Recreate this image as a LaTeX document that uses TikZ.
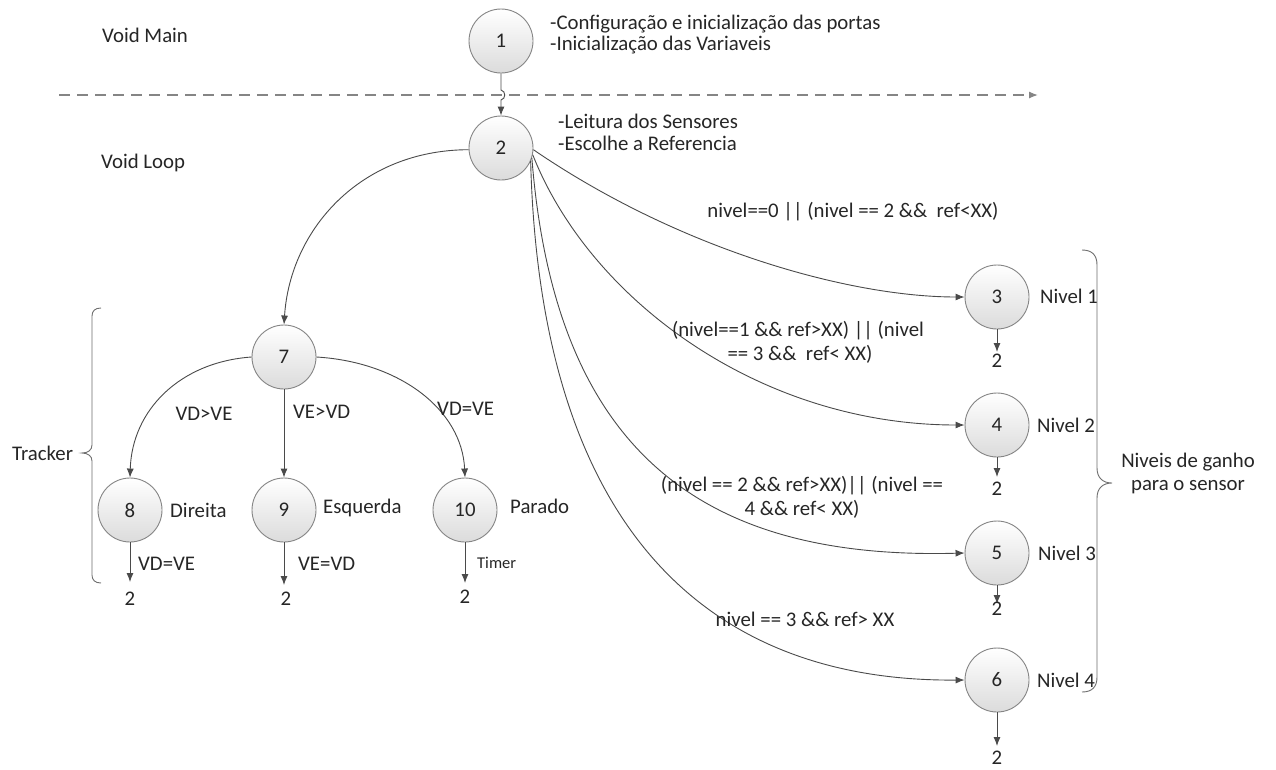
\documentclass[tikz,border=0pt]{standalone}
\usepackage{fontspec}
\setmainfont{Carlito}
\usetikzlibrary{arrows.meta}
\definecolor{edgec}{HTML}{4A4A4A}
\definecolor{circc}{HTML}{858585}
\definecolor{txtc}{HTML}{262626}
\definecolor{bracec}{HTML}{6E6E6E}
\begin{document}
\begin{tikzpicture}[x=1pt,y=-1pt,
  font=\fontsize{20.8}{25}\selectfont,
  state/.style={circle, draw=circc, line width=0.9pt, minimum size=64pt, inner sep=0pt,
    top color=white, bottom color=black!14, text=txtc},
  conn/.style={draw=edgec, line width=0.9pt, -{Latex[length=9pt,width=7pt]}},
  dashline/.style={draw=circc, line width=1.3pt, dash pattern=on 11pt off 7pt,
    -{Latex[length=9pt,width=7pt]}},
  bracepath/.style={draw=bracec, line width=0.9pt},
  txt/.style={text=txtc, inner sep=0pt},
  smalltxt/.style={text=txtc, inner sep=0pt, font=\fontsize{16.5}{20}\selectfont}
]
\fill[white] (0,0) rectangle (1276,769);
\useasboundingbox (0,0) rectangle (1276,769);

% dashed separator
\coordinate (dl) at (59,95);
\coordinate (dr) at (1038,95);
\draw[dashline] (dl) -- (dr);

% states
\node[state] (n1) at (501,41) {1};
\node[state] (n2) at (501,148) {2};
\node[state] (n3) at (997,297) {3};
\node[state] (n4) at (997,425) {4};
\node[state] (n5) at (997,553) {5};
\node[state] (n6) at (997,680) {6};
\node[state] (n7) at (284,357) {7};
\node[state] (n8) at (130,510) {8};
\node[state] (n9) at (284,510) {9};
\node[state] (n10) at (465,510) {10};

% section labels and notes
\node[txt, anchor=base west] (vm) at (102,42) {Void Main};
\node[txt, anchor=base west] (vl) at (101,168) {Void Loop};
\node[txt, anchor=base west] (c1) at (550,29) {-Configuração e inicialização das portas};
\node[txt, anchor=base west] (c2) at (550,50) {-Inicialização das Variaveis};
\node[txt, anchor=base west] (c3) at (558,128) {-Leitura dos Sensores};
\node[txt, anchor=base west] (c4) at (558,150) {-Escolhe a Referencia};

% main -> loop
\draw[conn] (n1.south) -- (501,90) .. controls (506,91) and (506,99) .. (501,100) -- (n2.north);

% level transitions
\draw[conn] (n2.-3) .. controls (680,250) and (850,297) .. (n3.west);
\draw[conn] (n2.-12) .. controls (590,300) and (760,425) .. (n4.west);
\draw[conn] (n2.-18) .. controls (555,450) and (700,560) .. (n5.west);
\draw[conn] (n2.-24) .. controls (540,520) and (700,682) .. (n6.west);

\node[txt, anchor=base] (l3) at (853,217) {nivel==0 || (nivel == 2 \&\& \ ref<XX)};
\node[txt, anchor=base] (l4a) at (798,336) {(nivel==1 \&\& ref>XX) || (nivel};
\node[txt, anchor=base] (l4b) at (800,360) {== 3 \&\& \ ref< XX)};
\node[txt, anchor=base] (l5a) at (802,491) {(nivel == 2 \&\& ref>XX)|| (nivel ==};
\node[txt, anchor=base] (l5b) at (802,515) {4 \&\& ref< XX)};
\node[txt, anchor=base] (l6) at (805,626) {nivel == 3 \&\& ref> XX};

\node[txt, anchor=base west] (nv1) at (1040,303) {Nivel 1};
\node[txt, anchor=base west] (nv2) at (1037,432) {Nivel 2};
\node[txt, anchor=base west] (nv3) at (1038,560) {Nivel 3};
\node[txt, anchor=base west] (nv4) at (1037,687) {Nivel 4};

% returns of the levels
\coordinate (e3) at (997,352);
\coordinate (e4) at (997,477);
\coordinate (e5) at (997,604);
\coordinate (e6) at (997,746);
\draw[conn] (n3) -- (e3);
\draw[conn] (n4) -- (e4);
\draw[conn] (n5) -- (e5);
\draw[conn] (n6) -- (e6);
\node[txt, anchor=base] (r3) at (997,367) {2};
\node[txt, anchor=base] (r4) at (997,495) {2};
\node[txt, anchor=base] (r5) at (997,615) {2};
\node[txt, anchor=base] (r6) at (997,764) {2};

% right brace
\draw[bracepath] (1082,250) .. controls (1092,250) and (1097,255) .. (1097,265)
  -- (1097,468) .. controls (1097,478) and (1103,483) .. (1112,483)
  .. controls (1103,483) and (1097,488) .. (1097,498)
  -- (1097,677) .. controls (1097,687) and (1092,692) .. (1082,692);
\node[txt, anchor=base] (g1) at (1188,467) {Niveis de ganho};
\node[txt, anchor=base] (g2) at (1188,490) {para o sensor};

% tracker
\draw[conn] (n2.183) .. controls (360,150) and (290,230) .. (n7.north);
\draw[conn] (n7.west) .. controls (180,362) and (132,410) .. (n8.north);
\draw[conn] (n7.south) -- (n9.north);
\draw[conn] (n7.east) .. controls (400,362) and (462,410) .. (n10.north);

\node[txt, anchor=base] (t8) at (204,420) {VD>VE};
\node[txt, anchor=base west] (t9) at (293,418) {VE>VD};
\node[txt, anchor=base west] (t10) at (437,415) {VD=VE};

\node[txt, anchor=base west] (d8) at (170,517) {Direita};
\node[txt, anchor=base west] (d9) at (323,513) {Esquerda};
\node[txt, anchor=base west] (d10) at (510,513) {Parado};

\coordinate (e8) at (130,582);
\coordinate (e9) at (284,585);
\coordinate (e10) at (465,583);
\draw[conn] (n8) -- (e8);
\draw[conn] (n9) -- (e9);
\draw[conn] (n10) -- (e10);
\node[txt, anchor=base west] (b8) at (138,570) {VD=VE};
\node[txt, anchor=base west] (b9) at (298,570) {VE=VD};
\node[smalltxt, anchor=base west] (b10) at (477,568) {Timer};
\node[txt, anchor=base] (r8) at (130,605) {2};
\node[txt, anchor=base] (r9) at (286,605) {2};
\node[txt, anchor=base] (r10) at (465,603) {2};

% left brace
\draw[bracepath] (101,308) .. controls (95,308) and (92,311) .. (92,316)
  -- (92,445) .. controls (92,450) and (88,453) .. (82,453)
  .. controls (88,453) and (92,456) .. (92,461)
  -- (92,575) .. controls (92,580) and (95,583) .. (101,583);
\node[txt, anchor=base west] (tr) at (12,460) {Tracker};
\end{tikzpicture}
\end{document}
